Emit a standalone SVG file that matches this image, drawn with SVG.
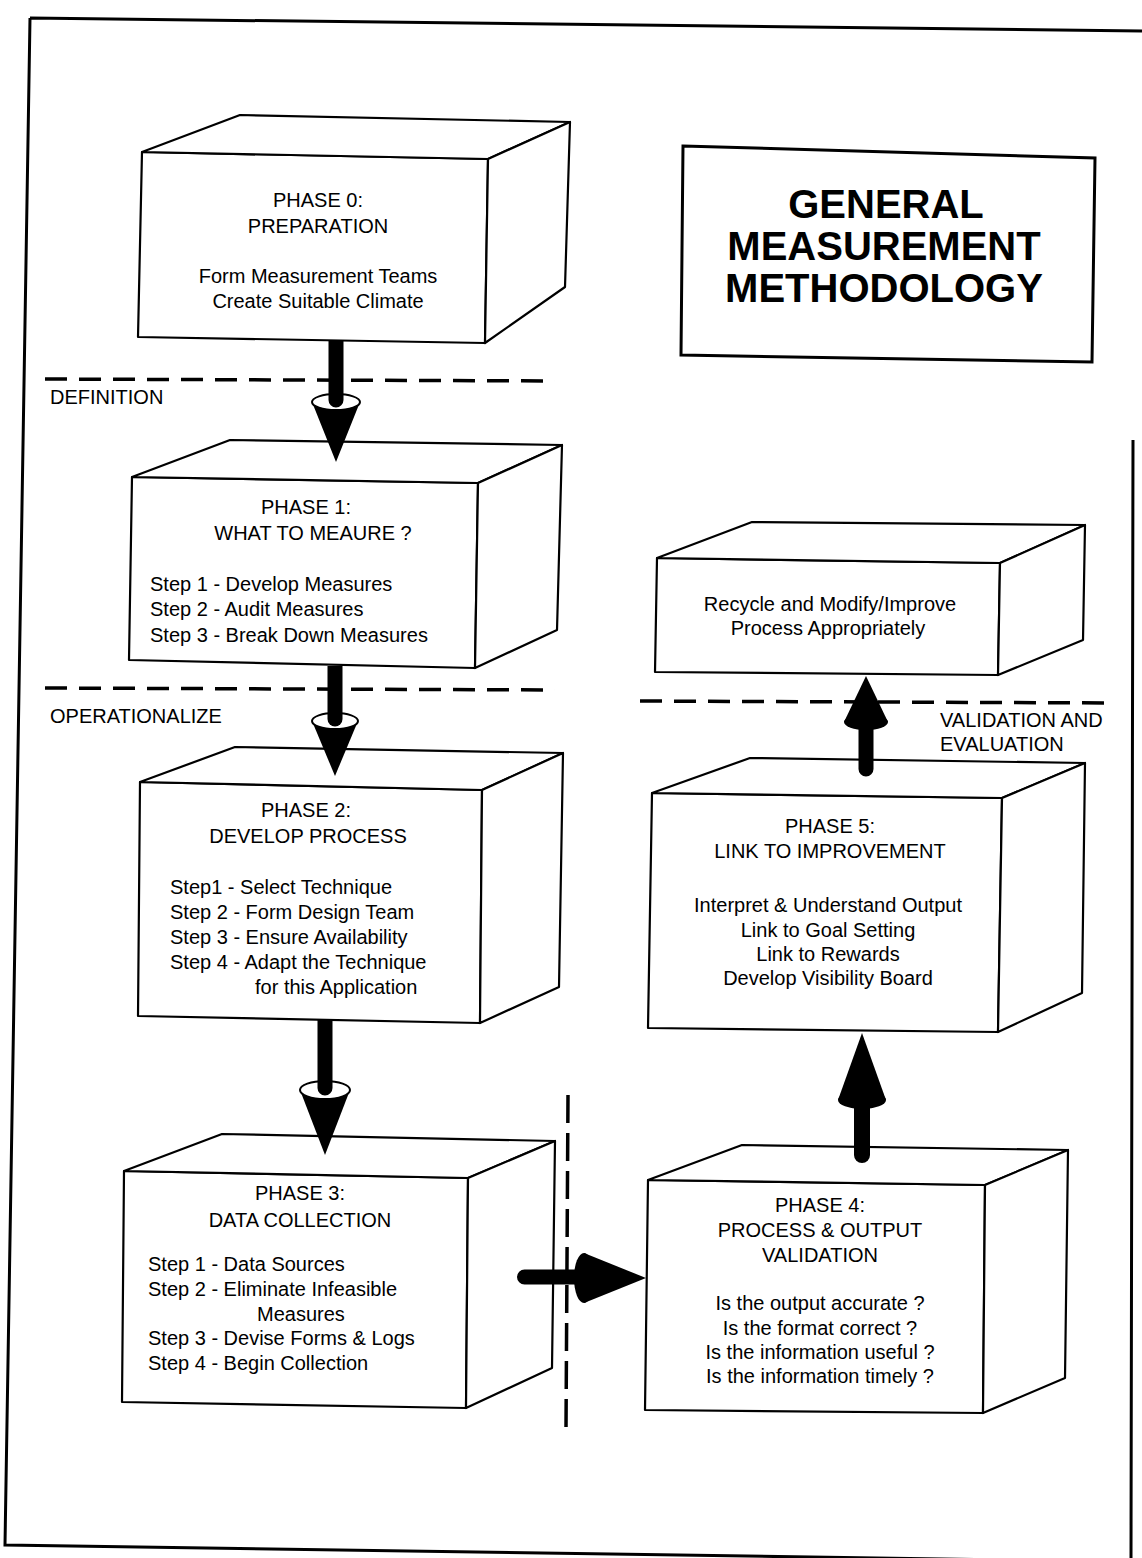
<svg xmlns="http://www.w3.org/2000/svg" width="1142" height="1558" viewBox="0 0 1142 1558">
<style>
.box polygon{fill:#fff;stroke:#000;stroke-width:2.2;stroke-linejoin:round}
.t{font-family:"Liberation Sans",Arial,Helvetica,sans-serif;font-size:20px;fill:#000}
.c{text-anchor:middle}
.title{font-family:"Liberation Sans",Arial,Helvetica,sans-serif;font-size:40px;font-weight:bold;fill:#000;text-anchor:middle}
.dash{fill:none;stroke:#000;stroke-width:3.5;stroke-dasharray:22 12}
.vdash{fill:none;stroke:#000;stroke-width:3.5;stroke-dasharray:28 10}
.frame{fill:none;stroke:#000;stroke-width:3}
.blk{fill:#000}
.cap{fill:#fff;stroke:#000;stroke-width:2}
</style>
<rect width="1142" height="1558" fill="#fff"/>
<g id="frame">
<path class="frame" d="M30,18 L1142,31 M30,18 L5,1545 L1142,1562 M1133,440 L1131,1558"/>
</g>
<g id="separators">
<path class="dash" d="M45,379 L555,381"/>
<path class="dash" d="M45,688 L555,690"/>
<path class="dash" d="M640,701 L1115,703"/>
<path class="vdash" d="M568,1095 L566,1428"/>
<text class="t" x="50" y="404">DEFINITION</text>
<text class="t" x="50" y="723">OPERATIONALIZE</text>
<text class="t" x="940" y="727">VALIDATION AND</text>
<text class="t" x="940" y="751">EVALUATION</text>
</g>
<g id="title">
<polygon points="683,146 1095,158 1092,362 681,355" fill="#fff" stroke="#000" stroke-width="3"/>
<text class="title" x="886" y="218">GENERAL</text>
<text class="title" x="884" y="260">MEASUREMENT</text>
<text class="title" x="884" y="302">METHODOLOGY</text>
</g>
<g id="phase0" class="box">
<polygon points="142,152 488,159 485,343 138,337"/>
<polygon points="142,152 240,115 570,122 488,159"/>
<polygon points="488,159 570,122 565,287 485,343"/>
<text class="t c" x="318" y="207">PHASE 0:</text>
<text class="t c" x="318" y="233">PREPARATION</text>
<text class="t c" x="318" y="283">Form Measurement Teams</text>
<text class="t c" x="318" y="308">Create Suitable Climate</text>
</g>
<g id="phase1" class="box">
<polygon points="132,477 478,483 475,668 129,660"/>
<polygon points="132,477 230,440 562,445 478,483"/>
<polygon points="478,483 562,445 557,630 475,668"/>
<text class="t c" x="306" y="514">PHASE 1:</text>
<text class="t c" x="313" y="540">WHAT TO MEAURE ?</text>
<text class="t" x="150" y="591">Step 1 - Develop Measures</text>
<text class="t" x="150" y="616">Step 2 - Audit Measures</text>
<text class="t" x="150" y="642">Step 3 - Break Down Measures</text>
</g>
<g id="phase2" class="box">
<polygon points="140,782 482,790 480,1023 138,1016"/>
<polygon points="140,782 235,747 563,753 482,790"/>
<polygon points="482,790 563,753 559,987 480,1023"/>
<text class="t c" x="306" y="817">PHASE 2:</text>
<text class="t c" x="308" y="843">DEVELOP PROCESS</text>
<text class="t" x="170" y="894">Step1 - Select Technique</text>
<text class="t" x="170" y="919">Step 2 - Form Design Team</text>
<text class="t" x="170" y="944">Step 3 - Ensure Availability</text>
<text class="t" x="170" y="969">Step 4 - Adapt the Technique</text>
<text class="t" x="255" y="994">for this Application</text>
</g>
<g id="phase3" class="box">
<polygon points="124,1171 468,1178 466,1408 122,1402"/>
<polygon points="124,1171 222,1134 555,1141 468,1178"/>
<polygon points="468,1178 555,1141 552,1368 466,1408"/>
<text class="t c" x="300" y="1200">PHASE 3:</text>
<text class="t c" x="300" y="1227">DATA COLLECTION</text>
<text class="t" x="148" y="1271">Step 1 - Data Sources</text>
<text class="t" x="148" y="1296">Step 2 - Eliminate Infeasible</text>
<text class="t" x="257" y="1321">Measures</text>
<text class="t" x="148" y="1345">Step 3 - Devise Forms &amp; Logs</text>
<text class="t" x="148" y="1370">Step 4 - Begin Collection</text>
</g>
<g id="phase4" class="box">
<polygon points="648,1180 985,1185 983,1413 645,1410"/>
<polygon points="648,1180 742,1145 1068,1150 985,1185"/>
<polygon points="985,1185 1068,1150 1065,1378 983,1413"/>
<text class="t c" x="820" y="1212">PHASE 4:</text>
<text class="t c" x="820" y="1237">PROCESS &amp; OUTPUT</text>
<text class="t c" x="820" y="1262">VALIDATION</text>
<text class="t c" x="820" y="1310">Is the output accurate ?</text>
<text class="t c" x="820" y="1335">Is the format correct ?</text>
<text class="t c" x="820" y="1359">Is the information useful ?</text>
<text class="t c" x="820" y="1383">Is the information timely ?</text>
</g>
<g id="phase5" class="box">
<polygon points="652,793 1002,798 998,1032 648,1028"/>
<polygon points="652,793 750,758 1085,763 1002,798"/>
<polygon points="1002,798 1085,763 1082,993 998,1032"/>
<text class="t c" x="830" y="833">PHASE 5:</text>
<text class="t c" x="830" y="858">LINK TO IMPROVEMENT</text>
<text class="t c" x="828" y="912">Interpret &amp; Understand Output</text>
<text class="t c" x="828" y="937">Link to Goal Setting</text>
<text class="t c" x="828" y="961">Link to Rewards</text>
<text class="t c" x="828" y="985">Develop Visibility Board</text>
</g>
<g id="recycle" class="box">
<polygon points="657,558 1000,563 998,675 655,672"/>
<polygon points="657,558 752,522 1085,525 1000,563"/>
<polygon points="1000,563 1085,525 1083,640 998,675"/>
<text class="t c" x="830" y="611">Recycle and Modify/Improve</text>
<text class="t c" x="828" y="635">Process Appropriately</text>
</g>
<g id="connectors">
<polygon class="blk" points="312,402 360,402 336,462"/>
<ellipse class="cap" cx="336" cy="402" rx="24" ry="8"/>
<path class="blk" d="M328.5,340 V400 A7.5,7.5 0 0 0 343.5,400 V340 Z"/>
<polygon class="blk" points="312,721 358,721 335,776"/>
<ellipse class="cap" cx="335" cy="721" rx="23" ry="8"/>
<path class="blk" d="M327.5,666 V719 A7.5,7.5 0 0 0 342.5,719 V666 Z"/>
<polygon class="blk" points="300,1090 350,1090 325,1155"/>
<ellipse class="cap" cx="325" cy="1090" rx="25" ry="9"/>
<path class="blk" d="M317.5,1020 V1088 A7.5,7.5 0 0 0 332.5,1088 V1020 Z"/>
<path class="blk" d="M584,1269.5 H524.5 A7.5,7.5 0 0 0 524.5,1284.5 H584 Z"/>
<polygon class="blk" points="584,1253 584,1303 646,1278"/>
<ellipse class="blk" cx="584" cy="1278" rx="10" ry="25"/>
<polygon class="blk" points="838,1100 886,1100 862,1033"/>
<ellipse class="blk" cx="862" cy="1100" rx="24" ry="9"/>
<path class="blk" d="M854,1100 V1155 A8,8 0 0 0 870,1155 V1100 Z"/>
<polygon class="blk" points="844,722 888,722 866,676"/>
<ellipse class="blk" cx="866" cy="722" rx="22" ry="8"/>
<path class="blk" d="M858.5,722 V769 A7.5,7.5 0 0 0 873.5,769 V722 Z"/>
</g>
</svg>
